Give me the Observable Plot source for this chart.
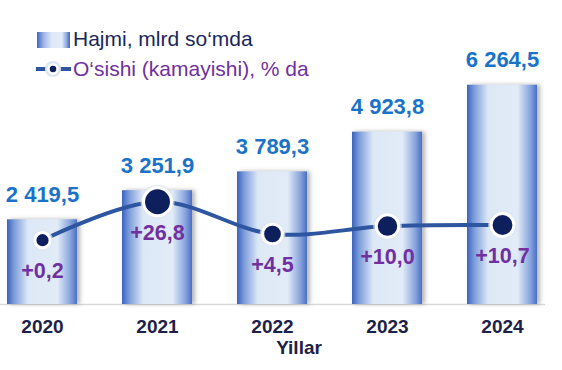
<!DOCTYPE html>
<html>
<head>
<meta charset="utf-8">
<script src="https://cdn.jsdelivr.net/npm/d3@7"></script>
<script src="https://cdn.jsdelivr.net/npm/@observablehq/plot@0.6"></script>
<style>
  html, body { margin: 0; padding: 0; background: #fff; }
  #wrap { position: relative; width: 562px; height: 370px; font-family: "Liberation Sans", Arial, sans-serif; }
  #legend { position: absolute; left: 0; top: 0; width: 400px; }
  .lg-row { position: absolute; left: 36px; display: flex; align-items: center; font-size: 21px; white-space: nowrap; }
  #chart svg g[aria-label^="x-axis"] text { font-size: 19px; font-weight: bold; fill: #1c2147; }
</style>
</head>
<body>
<div id="wrap">
  <div id="chart"></div>
  <div id="legend">
    <div class="lg-row" style="top:27px; color:#17275c;">
      <svg width="36" height="20" style="margin-right:1px">
        <defs>
          <linearGradient id="lgGrad" x1="0" x2="1" y1="0" y2="0">
            <stop offset="0" stop-color="#3f66c2"/>
            <stop offset="0.2" stop-color="#9db5e4"/>
            <stop offset="0.45" stop-color="#dfe9f7"/>
            <stop offset="0.75" stop-color="#e2ecf8"/>
            <stop offset="0.9" stop-color="#8aa6de"/>
            <stop offset="1" stop-color="#3d63bb"/>
          </linearGradient>
        </defs>
        <rect x="1" y="3" width="33" height="16" fill="url(#lgGrad)"/>
      </svg>
      <span>Hajmi, mlrd so‘mda</span>
    </div>
    <div class="lg-row" style="top:57px; color:#7030a0;">
      <svg width="36" height="24" style="margin-right:1px">
        <line x1="0" x2="35" y1="12" y2="12" stroke="#2e56a0" stroke-width="4"/>
        <circle cx="17" cy="12" r="8" fill="#dde5f0"/>
        <circle cx="17" cy="12" r="4.5" fill="#0d1f5c" stroke="#fff" stroke-width="2.5"/>
      </svg>
      <span>O‘sishi (kamayishi), % da</span>
    </div>
  </div>
</div>
<script>
// ---- data ----
const years = ["2020", "2021", "2022", "2023", "2024"];
const volume = [2419.5, 3251.9, 3789.3, 4923.8, 6264.5];   // Hajmi, mlrd so‘mda
const growth = [0.2, 26.8, 4.5, 10.0, 10.7];                // O‘sishi, %

const data = years.map((year, i) => ({year, volume: volume[i], growth: growth[i]}));

const locale = d3.formatLocale({decimal: ",", thousands: " ", grouping: [3], currency: ["", ""]});
const fmtVol = locale.format(",.1f");
const fmtGrowth = locale.format("+.1f");

// secondary axis for growth, mapped into the volume (y) domain
const gToY = d3.scaleLinear().domain([0, 30]).range([1829, 3067]);
// dot size from growth
const gToR = d3.scaleSqrt().domain([0, 27]).range([7, 14]);

const chart = Plot.plot({
  width: 562,
  height: 370,
  marginTop: 59,
  marginBottom: 66,
  marginLeft: 0,
  marginRight: 17,
  style: {fontFamily: "Liberation Sans, Arial, sans-serif", background: "transparent", overflow: "visible"},
  x: {domain: years, paddingInner: 0.387, paddingOuter: 0.043, align: 0.5, tickSize: 0, tickPadding: 15, label: null},
  y: {domain: [0, 7000], axis: null},
  r: {type: "identity"},
  marks: [
    Plot.ruleY([0], {stroke: "#d9d9d9", strokeWidth: 1.5}),
    Plot.barY(data, {x: "year", y: "volume", fill: "url(#barGrad)"}),
    Plot.text(data, {x: "year", y: "volume", text: d => fmtVol(d.volume), dy: -25,
      fill: "#1a73c8", fontSize: 22, fontWeight: "bold"}),
    Plot.line(data, {x: "year", y: d => gToY(d.growth), curve: "catmull-rom",
      stroke: "#2e56a0", strokeWidth: 4}),
    Plot.dot(data, {x: "year", y: d => gToY(d.growth), r: d => gToR(d.growth),
      fill: "#dde5f0", stroke: "#dde5f0", strokeWidth: 6, strokeOpacity: 0.7}),
    Plot.dot(data, {x: "year", y: d => gToY(d.growth), r: d => gToR(d.growth),
      fill: "#0d1f5c", stroke: "#ffffff", strokeWidth: 3}),
    Plot.text(data, {x: "year", y: d => gToY(d.growth), text: d => fmtGrowth(d.growth), dy: 31,
      fill: "#7030a0", fontSize: 21.5, fontWeight: "bold"}),
    Plot.text(["Yillar"], {frameAnchor: "bottom", dx: 26, dy: 49, fill: "#1c2147",
      fontSize: 19, fontWeight: "bold"})
  ]
});

const svg = d3.select(chart);
const defs = svg.insert("defs", ":first-child");
const grad = defs.append("linearGradient").attr("id", "barGrad")
  .attr("x1", 0).attr("x2", 1).attr("y1", 0).attr("y2", 0);
[[0, "#3a62c0"], [0.1, "#7b9bd9"], [0.3, "#dde8f6"], [0.72, "#e2ecf8"], [0.9, "#8aa6de"], [1, "#4a6fc4"]]
  .forEach(([o, c]) => grad.append("stop").attr("offset", o).attr("stop-color", c));
const f = defs.append("filter").attr("id", "barShadow")
  .attr("x", "-10%").attr("y", "-10%").attr("width", "130%").attr("height", "120%");
f.append("feDropShadow").attr("dx", 3).attr("dy", 0).attr("stdDeviation", 2)
  .attr("flood-color", "#777").attr("flood-opacity", 0.55);
svg.selectAll('g[aria-label="bar"] rect').attr("filter", "url(#barShadow)");

document.getElementById("chart").appendChild(chart);
</script>
</body>
</html>
